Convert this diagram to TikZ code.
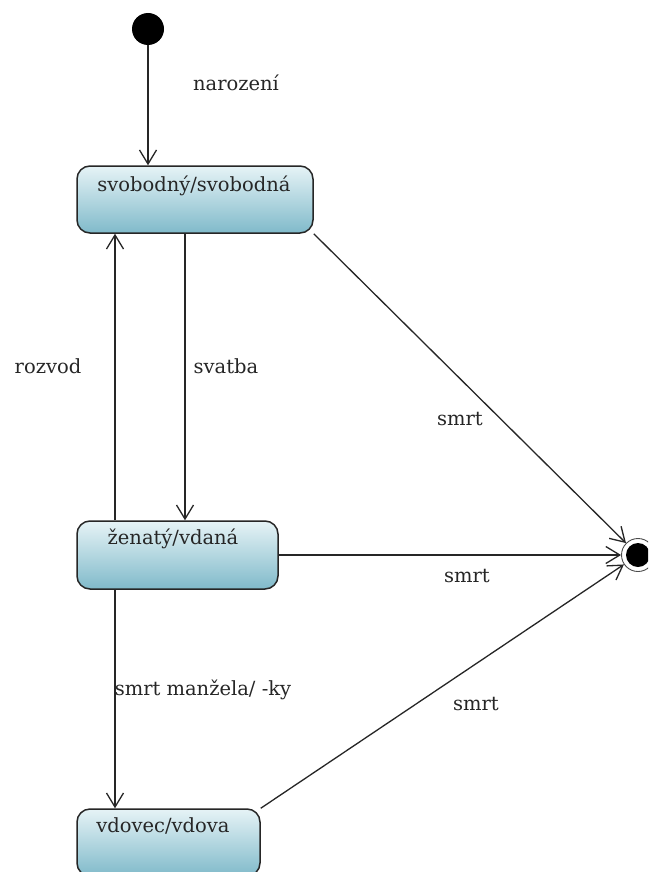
\documentclass[tikz,border=0pt]{standalone}
\usepackage{fontspec}
\setmainfont{DejaVu Serif}
\usetikzlibrary{arrows.meta}
\definecolor{statetop}{HTML}{E6F3F6}
\definecolor{statebot}{HTML}{80BACA}
\definecolor{edgecol}{HTML}{262626}
\begin{document}
\begin{tikzpicture}[x=1pt,y=-1pt,
  state/.style={draw=edgecol, line width=1.5pt, rounded corners=13pt,
    top color=statetop, bottom color=statebot, inner sep=0pt},
  statetext/.style={font=\fontsize{19.5}{22}\selectfont, inner sep=0pt, anchor=base, text=black!85},
  lbl/.style={font=\fontsize{19.5}{22}\selectfont, inner sep=0pt, anchor=base, text=black!85},
  trans/.style={draw=edgecol, line width=1.3pt,
    -{Straight Barb[length=14pt,width=17pt,line width=1.3pt]}},
  initdot/.style={circle, fill=black, minimum size=32pt, inner sep=0pt},
]
\path[use as bounding box] (0,0) rectangle (648,872);
\clip (0,0) rectangle (648,872);
\fill[white] (0,0) rectangle (648,872);

% states
\node[initdot] (init) at (148,29) {};
\node[state, minimum width=236pt, minimum height=67pt] (s1) at (195,199.5) {};
\node[state, minimum width=201pt, minimum height=68pt] (s2) at (177.5,555) {};
\node[state, minimum width=183pt, minimum height=67pt] (s3) at (168.5,842.5) {};
\node[statetext] (t1) at (194,191) {svobodný/svobodná};
\node[statetext] (t2) at (173,544) {ženatý/vdaná};
\node[statetext] (t3) at (163,832) {vdovec/vdova};

% final state
\node[circle, draw=black!70, line width=0.9pt, minimum size=33pt, inner sep=0pt] (fin) at (638,555) {};
\node[circle, fill=black, minimum size=24pt, inner sep=0pt] (finin) at (fin) {};

% transitions
\draw[trans] (init.south) -- (s1.north -| init.south);
\draw[trans] (s1.south -| 185,0) -- (s2.north -| 185,0);
\draw[trans] (s2.north -| 115,0) -- (s1.south -| 115,0);
\draw[trans] (s2.south -| 115,0) -- (s3.north -| 115,0);
\draw[trans] (s1.south east) -- (fin);
\draw[trans] (s2.east) -- (fin);
\draw[trans] (s3.north east) -- (fin);

% labels
\node[lbl] (lnar) at (236,91) {narození};
\node[lbl] (lroz) at (48,373) {rozvod};
\node[lbl] (lsva) at (226,373) {svatba};
\node[lbl] (lsm1) at (460,425) {smrt};
\node[lbl] (lsm2) at (467,582) {smrt};
\node[lbl] (lman) at (203,695) {smrt manžela/ -ky};
\node[lbl] (lsm3) at (476,710) {smrt};
\end{tikzpicture}
\end{document}
